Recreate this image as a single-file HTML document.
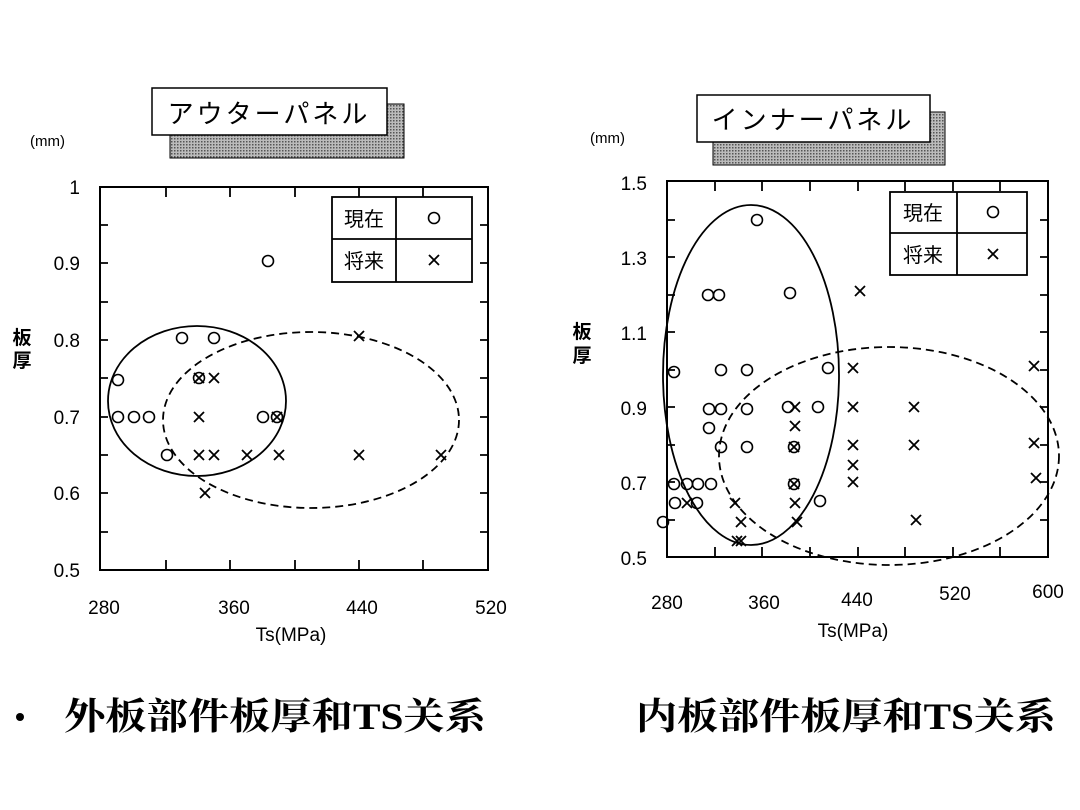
<!DOCTYPE html>
<html><head><meta charset="utf-8"><style>
body{margin:0;background:#fff;}
svg{display:block;}
text{font-family:"Liberation Sans","Noto Sans CJK JP",sans-serif;fill:#000;}
</style></head><body>
<svg width="1080" height="810" viewBox="0 0 1080 810" xmlns="http://www.w3.org/2000/svg">
<defs>
<pattern id="dots" width="3" height="3" patternUnits="userSpaceOnUse"><rect width="3" height="3" fill="#bbb"/><rect width="1.5" height="1.5" fill="#555"/></pattern>
<g id="o"><circle r="5.5" fill="none" stroke="#000" stroke-width="1.6"/></g>
<g id="x"><path d="M-5,-5L5,5M5,-5L-5,5" stroke="#000" stroke-width="1.8"/></g>
</defs>
<rect width="1080" height="810" fill="#fff"/>

<!-- LEFT -->
<rect x="170" y="104" width="234" height="54" fill="url(#dots)" stroke="#000"/>
<rect x="152" y="88" width="235" height="47" fill="#fff" stroke="#000" stroke-width="1.5"/>
<text x="269" y="123" font-size="26" text-anchor="middle" letter-spacing="3">アウターパネル</text>
<text x="30" y="146" font-size="15">(mm)</text>
<text x="22" y="344" font-size="19" text-anchor="middle" font-weight="bold">板</text>
<text x="22" y="367" font-size="19" text-anchor="middle" font-weight="bold">厚</text>
<rect x="100" y="187" width="388" height="383" fill="none" stroke="#000" stroke-width="2"/>
<g stroke="#000" stroke-width="1.8">
<path d="M166,187v10M230,187v10M295,187v10M359,187v10M423,187v10M166,570v-10M230,570v-10M295,570v-10M359,570v-10M423,570v-10"/>
<path d="M100,225h8M100,263h8M100,302h8M100,340h8M100,378h8M100,417h8M100,455h8M100,493h8M100,532h8"/>
<path d="M488,225h-8M488,263h-8M488,302h-8M488,340h-8M488,378h-8M488,417h-8M488,455h-8M488,493h-8M488,532h-8"/>
</g>
<g font-size="19" text-anchor="end">
<text x="80" y="194">1</text><text x="80" y="270">0.9</text><text x="80" y="347">0.8</text><text x="80" y="424">0.7</text><text x="80" y="500">0.6</text><text x="80" y="577">0.5</text>
</g>
<g font-size="19" text-anchor="middle">
<text x="104" y="614">280</text><text x="234" y="614">360</text><text x="362" y="614">440</text><text x="491" y="614">520</text>
<text x="291" y="641">Ts(MPa)</text>
</g>
<rect x="332" y="197" width="140" height="85" fill="#fff" stroke="#000" stroke-width="1.8"/>
<path d="M396,197v85M332,239h140" stroke="#000" stroke-width="1.8"/>
<text x="364" y="226" font-size="20" text-anchor="middle">現在</text>
<text x="364" y="268" font-size="20" text-anchor="middle">将来</text>
<use href="#o" x="434" y="218"/><use href="#x" x="434" y="260"/>
<ellipse cx="197" cy="401" rx="89" ry="75" fill="none" stroke="#000" stroke-width="1.8"/>
<ellipse cx="311" cy="420" rx="148" ry="88" fill="none" stroke="#000" stroke-width="1.8" stroke-dasharray="8,5"/>
<use href="#o" x="118" y="380"/><use href="#o" x="118" y="417"/><use href="#o" x="134" y="417"/><use href="#o" x="149" y="417"/>
<use href="#o" x="167" y="455"/><use href="#o" x="182" y="338"/><use href="#o" x="214" y="338"/><use href="#o" x="199" y="378"/>
<use href="#o" x="268" y="261"/><use href="#o" x="263" y="417"/><use href="#o" x="277" y="417"/>
<use href="#x" x="199" y="378"/><use href="#x" x="214" y="378"/><use href="#x" x="199" y="417"/><use href="#x" x="277" y="417"/>
<use href="#x" x="199" y="455"/><use href="#x" x="214" y="455"/><use href="#x" x="247" y="455"/><use href="#x" x="279" y="455"/>
<use href="#x" x="359" y="336"/><use href="#x" x="359" y="455"/><use href="#x" x="441" y="455"/><use href="#x" x="205" y="493"/>

<!-- RIGHT -->
<rect x="713" y="112" width="232" height="53" fill="url(#dots)" stroke="#000"/>
<rect x="697" y="95" width="233" height="47" fill="#fff" stroke="#000" stroke-width="1.5"/>
<text x="813" y="129" font-size="26" text-anchor="middle" letter-spacing="3">インナーパネル</text>
<text x="590" y="143" font-size="15">(mm)</text>
<text x="582" y="338" font-size="19" text-anchor="middle" font-weight="bold">板</text>
<text x="582" y="362" font-size="19" text-anchor="middle" font-weight="bold">厚</text>
<rect x="667" y="181" width="381" height="376" fill="none" stroke="#000" stroke-width="2"/>
<g stroke="#000" stroke-width="1.8">
<path d="M715,181v10M762,181v10M810,181v10M858,181v10M905,181v10M953,181v10M1000,181v10"/>
<path d="M715,557v-10M762,557v-10M810,557v-10M858,557v-10M905,557v-10M953,557v-10M1000,557v-10"/>
<path d="M667,220h8M667,257h8M667,295h8M667,332h8M667,370h8M667,407h8M667,445h8M667,482h8M667,520h8"/>
<path d="M1048,220h-8M1048,257h-8M1048,295h-8M1048,332h-8M1048,370h-8M1048,407h-8M1048,445h-8M1048,482h-8M1048,520h-8"/>
</g>
<g font-size="19" text-anchor="end">
<text x="647" y="190">1.5</text><text x="647" y="265">1.3</text><text x="647" y="340">1.1</text><text x="647" y="415">0.9</text><text x="647" y="490">0.7</text><text x="647" y="565">0.5</text>
</g>
<g font-size="19" text-anchor="middle">
<text x="667" y="609">280</text><text x="764" y="609">360</text><text x="857" y="606">440</text><text x="955" y="600">520</text><text x="1048" y="598">600</text>
<text x="853" y="637">Ts(MPa)</text>
</g>
<rect x="890" y="192" width="137" height="83" fill="#fff" stroke="#000" stroke-width="1.8"/>
<path d="M957,192v83M890,233h137" stroke="#000" stroke-width="1.8"/>
<text x="923" y="220" font-size="20" text-anchor="middle">現在</text>
<text x="923" y="262" font-size="20" text-anchor="middle">将来</text>
<use href="#o" x="993" y="212"/><use href="#x" x="993" y="254"/>
<ellipse cx="751" cy="375" rx="88" ry="170" fill="none" stroke="#000" stroke-width="1.8"/>
<ellipse cx="889" cy="456" rx="170" ry="109" fill="none" stroke="#000" stroke-width="1.8" stroke-dasharray="8,5"/>
<use href="#o" x="757" y="220"/><use href="#o" x="708" y="295"/><use href="#o" x="719" y="295"/><use href="#o" x="790" y="293"/>
<use href="#o" x="674" y="372"/><use href="#o" x="721" y="370"/><use href="#o" x="747" y="370"/><use href="#o" x="828" y="368"/>
<use href="#o" x="709" y="409"/><use href="#o" x="721" y="409"/><use href="#o" x="747" y="409"/><use href="#o" x="788" y="407"/><use href="#o" x="818" y="407"/>
<use href="#o" x="709" y="428"/><use href="#o" x="721" y="447"/><use href="#o" x="747" y="447"/><use href="#o" x="794" y="447"/>
<use href="#o" x="674" y="484"/><use href="#o" x="687" y="484"/><use href="#o" x="698" y="484"/><use href="#o" x="711" y="484"/><use href="#o" x="794" y="484"/>
<use href="#o" x="675" y="503"/><use href="#o" x="697" y="503"/><use href="#o" x="820" y="501"/><use href="#o" x="663" y="522"/>
<use href="#x" x="795" y="407"/><use href="#x" x="795" y="426"/><use href="#x" x="794" y="447"/><use href="#x" x="794" y="484"/>
<use href="#x" x="735" y="503"/><use href="#x" x="795" y="503"/><use href="#x" x="741" y="522"/><use href="#x" x="797" y="522"/>
<use href="#x" x="737" y="541"/><use href="#x" x="741" y="541"/><use href="#x" x="687" y="503"/>
<use href="#x" x="860" y="291"/><use href="#x" x="853" y="368"/><use href="#x" x="853" y="407"/><use href="#x" x="914" y="407"/>
<use href="#x" x="853" y="445"/><use href="#x" x="914" y="445"/><use href="#x" x="853" y="465"/><use href="#x" x="853" y="482"/>
<use href="#x" x="916" y="520"/><use href="#x" x="1034" y="366"/><use href="#x" x="1034" y="443"/><use href="#x" x="1036" y="478"/>

<!-- captions -->
<circle cx="20" cy="717" r="4" fill="#000"/>
<g font-family="'Liberation Serif','Noto Serif CJK SC',serif" font-weight="bold" font-size="37">
<text x="64" y="729" textLength="422" lengthAdjust="spacingAndGlyphs" style="font-family:'Liberation Serif','Noto Serif CJK SC',serif">外板部件板厚和TS关系</text>
<text x="636" y="729" textLength="420" lengthAdjust="spacingAndGlyphs" style="font-family:'Liberation Serif','Noto Serif CJK SC',serif">内板部件板厚和TS关系</text>
</g>
</svg>
</body></html>
